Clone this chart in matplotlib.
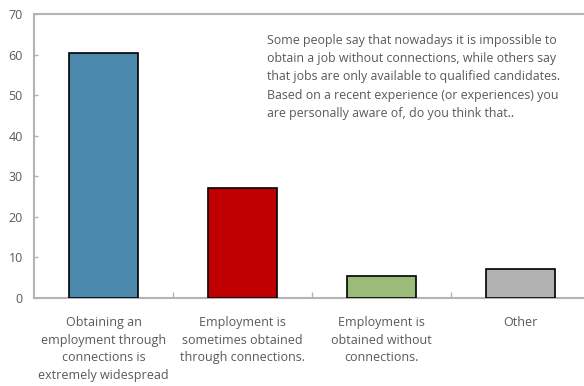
import matplotlib
matplotlib.use("Agg")
import matplotlib.pyplot as plt
from matplotlib.ticker import FixedLocator

categories = ["Obtaining an\nemployment through\nconnections is\nextremely widespread",
              "Employment is\nsometimes obtained\nthrough connections.",
              "Employment is\nobtained without\nconnections.",
              "Other"]
values = [60.5, 27.0, 5.3, 7.2]
colors = ["#4A89AB", "#C00000", "#9BBB78", "#B2B2B2"]
yticks = [0, 10, 20, 30, 40, 50, 60, 70]
note = ("Some people say that nowadays it is impossible to\n"
        "obtain a job without connections, while others say\n"
        "that jobs are only available to qualified candidates.\n"
        "Based on a recent experience (or experiences) you\n"
        "are personally aware of, do you think that..")

plt.rcParams['font.family'] = ['Open Sans', 'DejaVu Sans']
txt = "#595959"
axc = "#B4B4B4"

fig = plt.figure(figsize=(5.84, 3.86), dpi=100)
ax = fig.add_axes([34/584, 1-298/386, 556/584, 284/386])
x = list(range(len(categories)))
ax.bar(x, values, width=0.5, color=colors, edgecolor="black", linewidth=1.2, zorder=3)
ax.set_xlim(-0.5, 3.5)
ax.set_ylim(0, 70)
ax.set_yticks(yticks)
ax.set_xticks(x)
ax.set_xticklabels(categories, fontsize=9, color=txt, linespacing=1.47)
ax.xaxis.set_minor_locator(FixedLocator([0.5, 1.5, 2.5]))
ax.tick_params(axis='x', which='major', length=0, pad=13)
ax.tick_params(axis='x', which='minor', direction='in', length=4, color=axc, width=1)
ax.tick_params(axis='y', direction='in', length=3, color=axc, width=1, labelsize=9, labelcolor=txt, pad=8)
for s in ['left', 'bottom', 'top']:
    ax.spines[s].set_color(axc)
    ax.spines[s].set_linewidth(1.5)
ax.spines['right'].set_visible(False)

fig.text(267/584, 1-34/386, note, fontsize=8.9, color=txt, ha='left', va='top', linespacing=1.52)

fig.savefig("out.png", dpi=100)
